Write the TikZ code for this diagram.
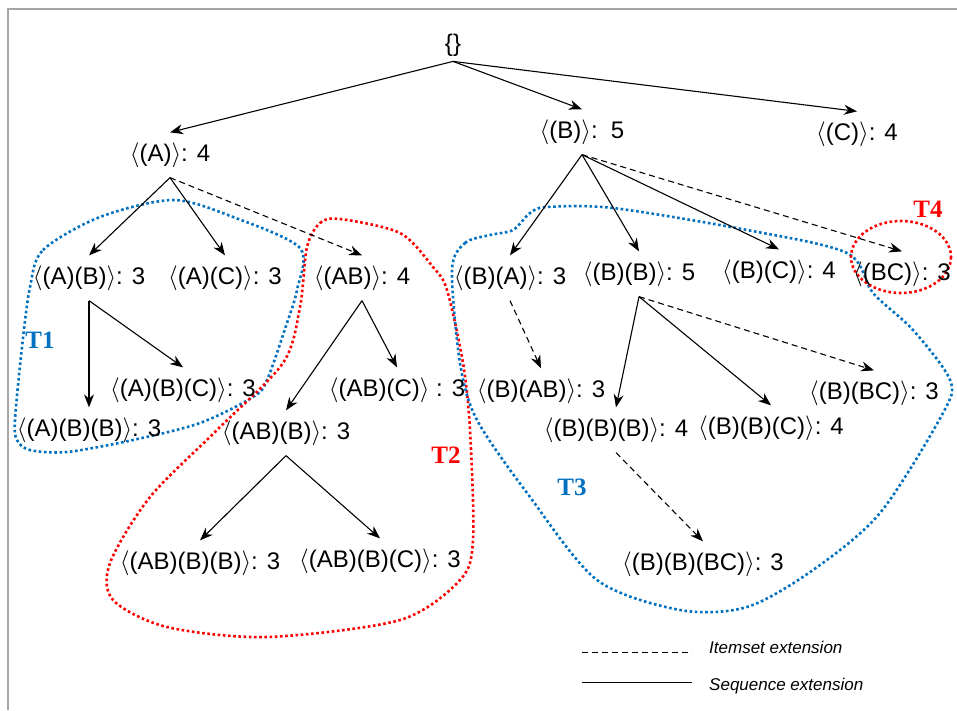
\documentclass[tikz,border=0pt]{standalone}
\usepackage{fontspec}
\setmainfont{Liberation Sans}
\newfontfamily\tfont{Liberation Serif}
\usetikzlibrary{arrows.meta}

\definecolor{tblue}{RGB}{0,112,192}
\definecolor{tred}{RGB}{255,0,0}
\newcommand{\seqlab}[1]{$\langle$#1$\rangle$}

\begin{document}
\begin{tikzpicture}[x=1pt,y=-1pt,
    lab/.style={inner xsep=0pt,inner ysep=10pt,font=\fontsize{24}{28}\selectfont},
    seqext/.style={line width=1.1pt,-{Stealth[length=13pt,width=10pt]}},
    itmext/.style={seqext,dash pattern=on 6pt off 4pt},
    tree/.style={line width=2.6pt,dash pattern=on 2.6pt off 2.6pt},
    tlab/.style={font=\tfont\bfseries\fontsize{25}{28}\selectfont},
    leg/.style={anchor=west,inner sep=0pt,font=\itshape\fontsize{17}{20}\selectfont}]
      \useasboundingbox (0,0) rectangle (957,710);
      \draw[gray!70,line width=1.2pt] (8,710) -- (8,9) -- (957,9);

      %%%%%%%%%%%%%%%%%%%%%%%%%%%%%%%%%%%%%%%%%%%%%%%%%%%%%%%%%%%%%%%%%%%%%%%%%%%
      %%%%  Subtrees
      \draw[tree,tblue] plot[smooth cycle] coordinates {(30,287) (43,250) (100,217)
        (173,200) (233,217) (300,248) (297,290) (287,323) (267,380) (253,397)
        (200,423) (133,440) (67,452) (30,450) (17,440) (15,420) (22,347)};
      \draw[tree,tred] plot[smooth cycle] coordinates {(307,247) (320,223) (340,219)
        (400,233) (433,267) (447,290) (463,363) (470,430) (473,540) (460,580)
        (400,620) (267,637) (167,627) (113,600) (110,563) (150,497) (217,430)
        (283,363) (300,307)};
      \draw[tree,tblue] plot[smooth cycle] coordinates {(452,270) (465,243) (490,235)
        (513,230) (530,213) (547,207) (613,208) (747,230) (847,253) (873,293)
        (913,330) (950,380) (943,413) (880,513) (813,570) (747,607) (680,610)
        (597,580) (530,497) (477,420) (460,363)};
      \draw[tree,tred] (901,257) ellipse (50 and 36);

      \node[tlab,tblue] (t1) at (40,340) {T1};
      \node[tlab,tred] (t2) at (446,455) {T2};
      \node[tlab,tblue] (t3) at (572,487) {T3};
      \node[tlab,tred] (t4) at (928,209) {T4};

      %%%%%%%%%%%%%%%%%%%%%%%%%%%%%%%%%%%%%%%%%%%%%%%%%%%%%%%%%%%%%%%%%%%%%%%%%%%
      %%%%  Nodes
      \node[lab,inner ysep=5pt] (r) at (453,45) {\{\}};
      \node[lab] (a) at (170,155) {\seqlab{(A)}: 4};
      \node[lab] (b) at (582,132) {\seqlab{(B)}:\ \ 5};
      \node[lab] (c) at (857,134) {\seqlab{(C)}: 4};

      \node[lab] (a-b) at (89,278) {\seqlab{(A)(B)}: 3};
      \node[lab] (a-c) at (225,278) {\seqlab{(A)(C)}: 3};
      \node[lab] (ab) at (362,278) {\seqlab{(AB)}: 4};
      \node[lab] (b-a) at (510,278) {\seqlab{(B)(A)}: 3};
      \node[lab] (b-b) at (639,274) {\seqlab{(B)(B)}: 5};
      \node[lab] (b-c) at (779,272) {\seqlab{(B)(C)}: 4};
      \node[lab] (bc) at (902,274) {\seqlab{(BC)}: 3};

      \node[lab] (a-b-c) at (183,390) {\seqlab{(A)(B)(C)}: 3};
      \node[lab] (a-b-b) at (89,430) {\seqlab{(A)(B)(B)}: 3};
      \node[lab] (ab-c) at (397,390) {\seqlab{(AB)(C)} : 3};
      \node[lab] (ab-b) at (286,433) {\seqlab{(AB)(B)}: 3};
      \node[lab] (ab-b-b) at (200,563) {\seqlab{(AB)(B)(B)}: 3};
      \node[lab] (ab-b-c) at (380,561) {\seqlab{(AB)(B)(C)}: 3};

      \node[lab] (b-ab) at (541,391) {\seqlab{(B)(AB)}: 3};
      \node[lab] (b-b-b) at (616,430) {\seqlab{(B)(B)(B)}: 4};
      \node[lab] (b-b-c) at (771,428) {\seqlab{(B)(B)(C)}: 4};
      \node[lab] (b-bc) at (874,393) {\seqlab{(B)(BC)}: 3};
      \node[lab] (b-b-bc) at (703,564) {\seqlab{(B)(B)(BC)}: 3};

      %%%%%%%%%%%%%%%%%%%%%%%%%%%%%%%%%%%%%%%%%%%%%%%%%%%%%%%%%%%%%%%%%%%%%%%%%%%
      %%%%  Extensions
      \foreach \p/\q in {r/a,r/b,r/c,a/a-b,a/a-c,b/b-a,b/b-b,b/b-c,
          a-b/a-b-b,a-b/a-b-c,ab/ab-b,ab/ab-c,ab-b/ab-b-b,ab-b/ab-b-c,
          b-b/b-b-b,b-b/b-b-c}
        {\draw[seqext] (\p.south) -- (\q.north);};
      \foreach \p/\q in {a/ab,b/bc,b-a/b-ab,b-b/b-bc,b-b-b/b-b-bc}
        {\draw[itmext] (\p.south) -- (\q.north);};

      %%%%  Legend
      \node[leg] (ie) at (709,647) {Itemset extension};
      \node[leg] (se) at (709,686) {Sequence extension};
      \coordinate (ie0) at (582,652);
      \coordinate (se0) at (582,682);
      \draw[line width=0.9pt,dash pattern=on 6pt off 4pt] (ie0) -- ++(110,0);
      \draw[line width=0.9pt] (se0) -- ++(110,0);
    \end{tikzpicture}
\end{document}
